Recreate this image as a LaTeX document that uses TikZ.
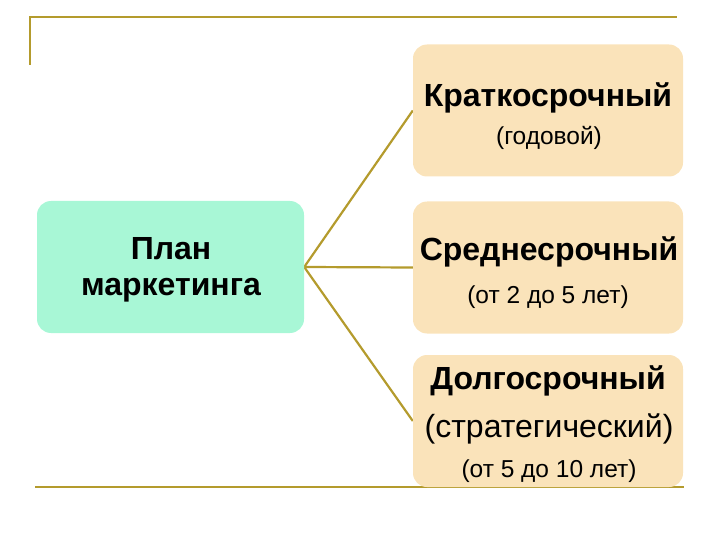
\documentclass[tikz,border=0pt]{standalone}
\usepackage{fontspec}
\setmainfont{Liberation Sans}
\usetikzlibrary{backgrounds}
\definecolor{rule}{HTML}{B49B2D}
\definecolor{boxfill}{HTML}{FAE3BA}
\definecolor{planfill}{HTML}{A8F7D6}
\begin{document}
\begin{tikzpicture}[x=1pt,y=-1pt,
  framerule/.style={draw=rule,line width=2.2pt},
  conn/.style={draw=rule,line width=2.2pt},
  termbox/.style={rectangle,rounded corners=14pt,fill=boxfill,minimum width=270pt,minimum height=132pt,inner sep=0pt},
  planbox/.style={rectangle,rounded corners=14pt,fill=planfill,minimum width=267pt,minimum height=132pt,inner sep=0pt},
  title/.style={font=\bfseries\fontsize{32}{36}\selectfont,inner sep=0pt,anchor=base},
  sub/.style={font=\fontsize{24.5}{28}\selectfont,inner sep=0pt,anchor=base},
  big/.style={font=\fontsize{32}{36}\selectfont,inner sep=0pt,anchor=base}]
\useasboundingbox (0,0) rectangle (720,540);
% frame
\coordinate (tl) at (30,17);
\coordinate (tr) at (677,17);
\coordinate (lv) at (30,65);
\coordinate (bl) at (35,487);
\coordinate (br) at (684,487);
\draw[framerule] (lv) -- (tl) -- (tr);
% boxes
\node[planbox] (plan) at (170.5,267) {};
\node[termbox] (k) at (548,110.5) {};
\node[termbox] (s) at (548,267.5) {};
\node[termbox] (d) at (548,421) {};
% texts
\node[title] (plan1) at (171,259) {План};
\node[title] (plan2) at (171,295) {маркетинга};
\node[title] (k1) at (548,107) {Краткосрочный};
\node[sub] (k2) at (549,145) {(годовой)};
\node[title] (s1) at (549,260) {Среднесрочный};
\node[sub] (s2) at (548,303) {(от 2 до 5 лет)};
\node[title] (d1) at (548,389) {Долгосрочный};
\node[big] (d2) at (549,437) {(стратегический)};
\node[sub] (d3) at (549,477) {(от 5 до 10 лет)};
% connectors and bottom rule behind boxes
\begin{pgfonlayer}{background}
\draw[framerule] (bl) -- (br);
\draw[conn] (plan.east) -- (k.west);
\draw[conn] (plan.east) -- (s.west);
\draw[conn] (plan.east) -- (d.west);
\end{pgfonlayer}
\end{tikzpicture}
\end{document}
